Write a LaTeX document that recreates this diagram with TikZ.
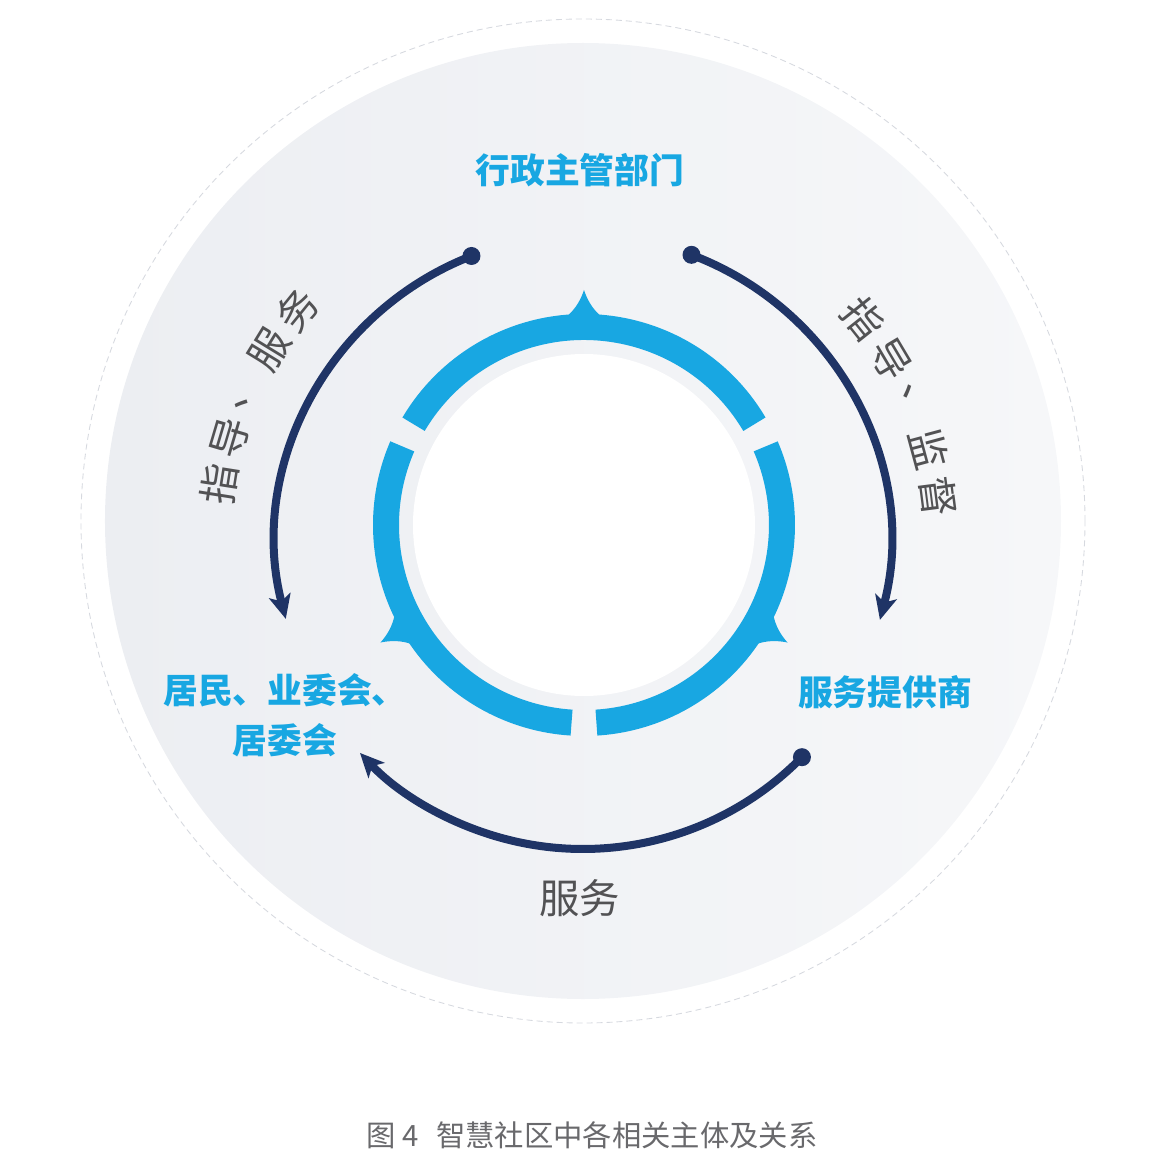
\documentclass[tikz,border=0pt]{standalone}
\usepackage{fontspec}
\usepackage{tikz}
\usetikzlibrary{
  arrows.meta,
  calc
}
\newfontfamily\cjk{Noto Sans CJK SC}
\definecolor{RingBlue}{RGB}{24,167,226}
\definecolor{ArcNavy}{RGB}{31,52,102}
\definecolor{LabelGray}{RGB}{82,82,84}
\definecolor{CaptionGray}{RGB}{105,105,108}
\definecolor{DiscLight}{RGB}{246,247,249}
\definecolor{DiscDark}{RGB}{236,238,242}
\definecolor{RimGray}{RGB}{214,217,223}
\tikzset{
  rolenode/.style={text=RingBlue,font=\cjk\bfseries\fontsize{19.8}{28.3}\selectfont,align=center,inner sep=0pt},
  relchar/.style={text=LabelGray,font=\cjk\fontsize{23}{23}\selectfont,inner sep=0pt},
  ringseg/.style={draw=RingBlue,line width=0.52cm},
  relarrow/.style={-{Stealth[length=0.48cm,width=0.44cm,inset=0.12cm]},line width=0.16cm,draw=ArcNavy},
  reldot/.style={fill=ArcNavy},
  rimline/.style={draw=RimGray,line width=0.5pt,dash pattern=on 0.12cm off 0.08cm}
}

\begin{document}
\begin{tikzpicture}[x=0.02cm,y=0.02cm]
\useasboundingbox (-584,-642) rectangle (574,525);
\shade[left color=DiscDark,right color=DiscLight] (-1,4) circle[radius=478];
\draw[rimline] (-1,4) circle[radius=502];
\fill[white] (0,0) circle[radius=171];
\foreach \sa/\ea in {30.6/149.4,156.6/266.4,273.6/383.4}
  \draw[ringseg] (\sa:198) arc[start angle=\sa,end angle=\ea,radius=198];
\foreach \a in {90,210,330}
  \fill[RingBlue,rotate=\a-90] (0,235) .. controls (3,226) and (8,216) .. (18,208) -- (-18,208) .. controls (-8,216) and (-3,226) .. (0,235) -- cycle;

\node[rolenode] (gov) at (-4,355) {行政主管部门};
\node[rolenode] (prov) at (301,-167) {服务提供商};
\node[rolenode] (res) at (-299,-190) {居民、业委会、\\居委会};

\coordinate (hub) at (-1,-17);
\coordinate (gov-l) at ($(hub)+(111.3:307)$);
\coordinate (gov-r) at ($(hub)+(69.3:307)$);
\coordinate (prov-b) at ($(hub)+(-44.5:307)$);
\draw[relarrow] (gov-l) arc[start angle=111.3,end angle=194.5,radius=307];
\draw[relarrow] (gov-r) arc[start angle=69.3,end angle=-14.7,radius=307];
\draw[relarrow] (prov-b) arc[start angle=-44.5,end angle=-136.6,radius=307];
\fill[reldot] (gov-l) circle[radius=9];
\fill[reldot] (gov-r) circle[radius=9];
\fill[reldot] (prov-b) circle[radius=9];

\foreach \c [count=\i from 0] in {指,导,、,服,务}
  \node[relchar,rotate=81-7.5*\i] (lt\i) at ($(hub)+({171-7.5*\i}:368)$) {\c};
\foreach \c [count=\i from 0] in {指,导,、,监,督}
  \node[relchar,rotate=-51.5-7.8*\i] (rt\i) at ($(hub)+({38.5-7.8*\i}:358)$) {\c};
\node[relchar] (svc) at (-4,-373) {服务};

\node[text=CaptionGray,font=\cjk\fontsize{16.7}{20}\selectfont,inner sep=0pt] (cap) at (8,-610) {图~4\hspace{0.6em}智慧社区中各相关主体及关系};
\end{tikzpicture}
\end{document}
